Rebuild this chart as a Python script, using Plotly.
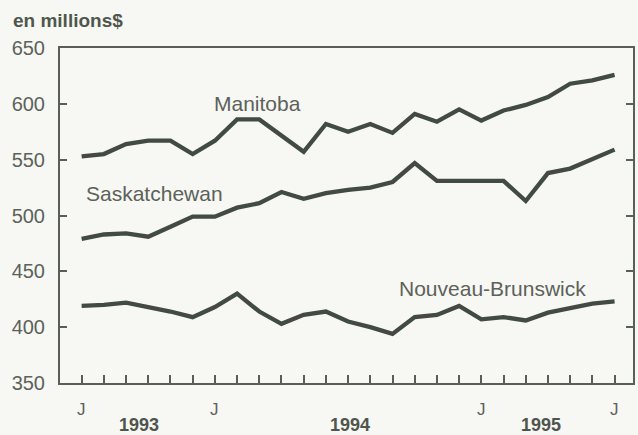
import plotly.graph_objects as go

# ---- data (monthly, index 0 = first "J") ----
months = list(range(25))
manitoba = [553, 555, 564, 567, 567, 555, 567, 586, 586, 571, 557, 582, 575,
            582, 574, 591, 584, 595, 585, 594, 599, 606, 618, 621, 626]
saskatchewan = [479, 483, 484, 481, 490, 499, 499, 507, 511, 521, 515, 520, 523,
                525, 530, 547, 531, 531, 531, 531, 513, 538, 542, 551, 559]
nouveau_brunswick = [419, 420, 422, 418, 414, 409, 418, 430, 414, 403, 411, 414, 405,
                     400, 394, 409, 411, 419, 407, 409, 406, 413, 417, 421, 423]

month_label_pos = [0, 6, 18, 24]
month_labels = ["J", "J", "J", "J"]
year_label_pos = [2.6, 12.1, 20.7]
year_labels = ["1993", "1994", "1995"]
major_tick_pos = [6, 18]
y_ticks = [350, 400, 450, 500, 550, 600, 650]

series_names = ["Manitoba", "Saskatchewan", "Nouveau-Brunswick"]
series_label_x = [7.9, 3.3, 18.5]
series_label_y = [600.5, 520, 434.5]

LINE = "#414b41"
AXIS = "#5a5e58"
TEXT = "#5c6259"
BG = "#f7f7f4"
FONT = "Liberation Sans, Arial, sans-serif"

PLOT_H = 335.0
BOTTOM_PX = 382.7

def paper_y(px):
    return (BOTTOM_PX - px) / PLOT_H

fig = go.Figure()
for vals in (manitoba, saskatchewan, nouveau_brunswick):
    fig.add_trace(go.Scatter(x=months, y=vals, mode="lines",
                             line=dict(color=LINE, width=4.3),
                             showlegend=False, hoverinfo="skip"))

annotations = []
for name, x, y in zip(series_names, series_label_x, series_label_y):
    annotations.append(dict(x=x, y=y, xref="x", yref="y", text=name, showarrow=False,
                            font=dict(family=FONT, size=21, color=TEXT)))
for x, t in zip(month_label_pos, month_labels):
    annotations.append(dict(x=x, y=paper_y(409), xref="x", yref="paper", text=t,
                            showarrow=False, yanchor="middle",
                            font=dict(family=FONT, size=17, color=TEXT)))
for x, t in zip(year_label_pos, year_labels):
    annotations.append(dict(x=x, y=paper_y(424.5), xref="x", yref="paper",
                            text="<b>" + t + "</b>", showarrow=False, yanchor="middle",
                            font=dict(family=FONT, size=18, color="#4f554d")))
annotations.append(dict(x=-(60 - 11) / 574.7, y=paper_y(20), xref="paper", yref="paper",
                        text="<b>en millions$</b>", showarrow=False,
                        xanchor="left", yanchor="middle",
                        font=dict(family=FONT, size=19, color="#4f574c")))

fig.update_layout(
    width=638, height=435,
    margin=dict(l=60, r=3.3, t=47.7, b=52.3),
    paper_bgcolor=BG, plot_bgcolor=BG,
    annotations=annotations,
    xaxis=dict(range=[-0.974, 24.83], showgrid=False, zeroline=False,
               showline=True, linecolor=AXIS, linewidth=2, mirror=True,
               tickmode="array", tickvals=major_tick_pos, ticktext=["", ""],
               ticks="inside", ticklen=25, tickwidth=2, tickcolor=AXIS,
               showticklabels=False,
               minor=dict(tickmode="array", tickvals=months, ticks="inside",
                          ticklen=8, tickwidth=2, tickcolor=AXIS)),
    yaxis=dict(range=[350, 650], showgrid=False, zeroline=False,
               showline=True, linecolor=AXIS, linewidth=2, mirror="ticks",
               tickmode="array", tickvals=y_ticks,
               ticks="inside", ticklen=7, tickwidth=2, tickcolor=AXIS,
               ticklabelstandoff=9,
               tickfont=dict(family=FONT, size=20, color=TEXT)),
)

fig.write_html("out.html", config={"displayModeBar": False},
               post_script="document.body.style.margin='0';")
